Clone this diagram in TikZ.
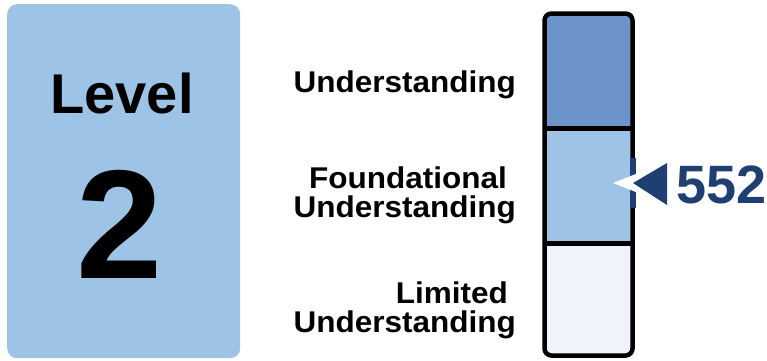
\documentclass[tikz,border=0pt]{standalone}
\usepackage{fontspec}
\setmainfont{Liberation Sans}
\newfontfamily\lblfont[FakeStretch=1.05]{Liberation Sans}
\definecolor{boxblue}{RGB}{157,195,230}
\definecolor{topblue}{RGB}{108,148,203}
\definecolor{midblue}{RGB}{157,195,230}
\definecolor{lowblue}{RGB}{240,243,250}
\definecolor{navy}{RGB}{31,63,115}
\begin{document}
\begin{tikzpicture}[x=1pt,y=-1pt,
  lbl/.style={font=\lblfont\bfseries\fontsize{30}{30}\selectfont, inner sep=0, anchor=base east},
  seg/.style={inner sep=0, minimum width=88pt, anchor=north west}]
\useasboundingbox (0,0) rectangle (767,360);
\fill[white] (0,0) rectangle (767,360);
% level card
\node[fill=boxblue, rounded corners=10pt, minimum width=233pt, minimum height=354pt, anchor=north west, inner sep=0] (card) at (7,4) {};
\node[font=\bfseries\fontsize{56}{56}\selectfont, anchor=base, inner sep=0] (level) at (122,113) {Level};
\node[font=\bfseries\fontsize{155}{155}\selectfont, anchor=base, inner sep=0] (num) at (120,278) {2};
% labels
\node[lbl] (l1) at (516,92) {Understanding};
\node[lbl] (l2a) at (507,188) {Foundational};
\node[lbl] (l2b) at (516,217) {Understanding};
\node[lbl] (l3a) at (508,303) {Limited};
\node[lbl] (l3b) at (516,332) {Understanding};
% bar
\node[seg, fill=topblue, minimum height=114pt] (top) at (545,14) {};
\node[seg, fill=midblue, minimum height=115pt] (mid) at (545,128) {};
\node[seg, fill=lowblue, minimum height=112pt] (low) at (545,243) {};
\draw[line width=4.5pt, rounded corners=7pt] (544.5,13.5) rectangle (632.5,355.5);
\draw[line width=4.5pt] (top.south west) -- (top.south east);
\draw[line width=4.5pt] (mid.south west) -- (mid.south east);
% marker
\fill[navy] (629.5,158) rectangle (635.5,208);
\fill[white] (613,183) -- (637,173.5) -- (637,192.5) -- cycle;
\fill[navy] (633,183) -- (667,163) -- (667,205) -- cycle;
\node[font=\bfseries\fontsize{54}{54}\selectfont, text=navy, anchor=base west, inner sep=0] (score) at (676,203) {552};
\end{tikzpicture}
\end{document}
